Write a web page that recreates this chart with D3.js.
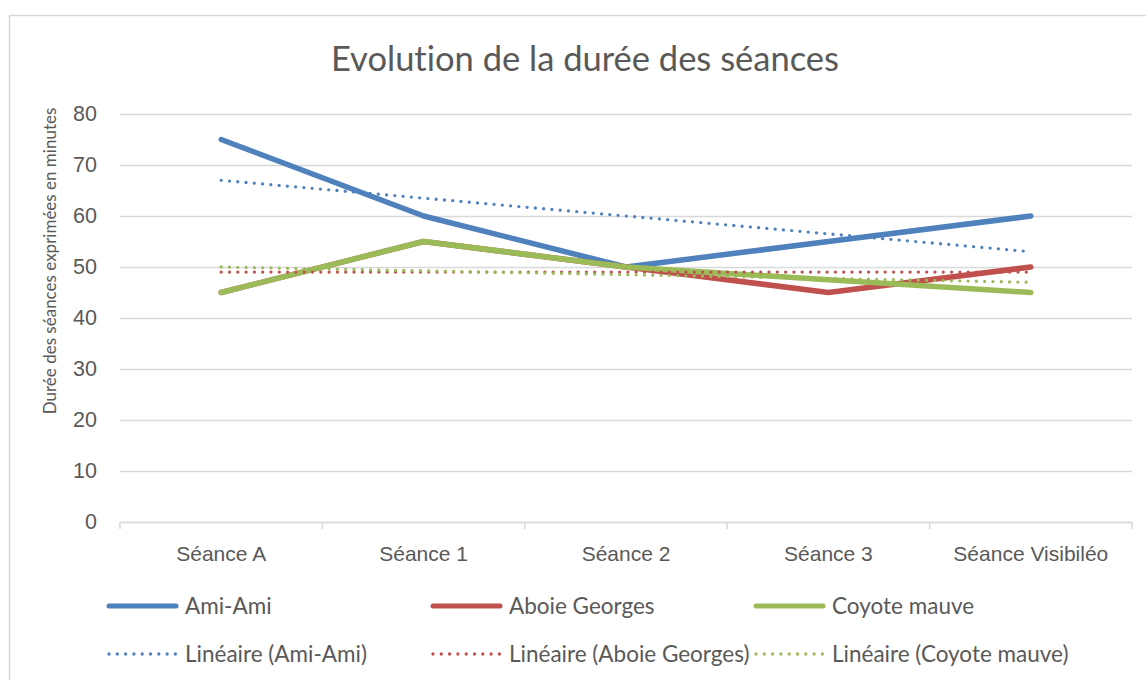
<!DOCTYPE html>
<html>
<head>
<meta charset="utf-8">
<script src="https://cdn.jsdelivr.net/npm/d3@7"></script>
<style>
  body { margin: 0; background: #fff; }
  svg { display: block; font-family: Lato, "Open Sans", sans-serif; font-variant-ligatures: none; font-feature-settings: "liga" 0; }
</style>
</head>
<body>
<svg width="1146" height="680"></svg>
<script>
// data
var categories = ["Séance A", "Séance 1", "Séance 2", "Séance 3", "Séance Visibiléo"];
var amiAmi = [75, 60, 50, 55, 60];
var aboieGeorges = [45, 55, 50, 45, 50];
var coyoteMauve = [45, 55, 50, 47.5, 45];
var seriesNames = ["Ami-Ami", "Aboie Georges", "Coyote mauve"];
var seriesColors = ["#4F81BD", "#C0504D", "#9BBB59"];
var yTicks = [0, 10, 20, 30, 40, 50, 60, 70, 80];
var title = "Evolution de la durée des séances";
var yTitle = "Durée des séances exprimées en minutes";

var series = [amiAmi, aboieGeorges, coyoteMauve];

var margin = {top: 114, left: 120, right: 14, bottom: 158};
var W = 1146, H = 680;
var width = W - margin.left - margin.right;
var height = H - margin.top - margin.bottom;
var textColor = "#595959";
var gridColor = "#D9D9D9";

var svg = d3.select("svg");

// chart frame
svg.append("rect")
  .attr("x", 9.5).attr("y", 15.5)
  .attr("width", 1160).attr("height", 700)
  .style("fill", "#fff").style("stroke", gridColor).style("stroke-width", 1.5);

svg.append("text")
  .attr("x", 585).attr("y", 71)
  .style("text-anchor", "middle")
  .style("font-size", "34.5px")
  .style("fill", textColor)
  .text(title);

var g = svg.append("g").attr("transform", "translate(" + margin.left + "," + margin.top + ")");

var x = d3.scaleBand().domain(categories).range([0, width]);
var y = d3.scaleLinear().domain([0, 80]).range([height, 0]);
function cx(i) { return x(categories[i]) + x.bandwidth() / 2; }

// gridlines + y labels
var yAxis = g.append("g")
  .call(d3.axisLeft(y).tickValues(yTicks).tickSize(-width).tickPadding(22));
yAxis.select(".domain").remove();
yAxis.selectAll(".tick line").style("stroke", gridColor).style("stroke-width", 1.5);
yAxis.selectAll(".tick text").style("font-size", "21.5px").style("fill", textColor)
  .attr("x", -23);

// x axis: labels and category boundary ticks
var xAxis = g.append("g")
  .attr("transform", "translate(0," + height + ")")
  .call(d3.axisBottom(x).tickSize(0).tickPadding(24));
xAxis.select(".domain").style("stroke", gridColor).style("stroke-width", 1.5);
xAxis.selectAll(".tick text").style("font-size", "21px").style("fill", textColor);
g.append("g").selectAll("line")
  .data(d3.range(categories.length + 1))
  .join("line")
  .attr("x1", function(d) { return d * x.step(); })
  .attr("x2", function(d) { return d * x.step(); })
  .attr("y1", height).attr("y2", height + 7)
  .style("stroke", gridColor).style("stroke-width", 1.5);

// y axis title
svg.append("text")
  .attr("transform", "translate(50,261) rotate(-90)")
  .attr("dy", "0.35em")
  .style("text-anchor", "middle")
  .style("font-size", "17px")
  .style("fill", textColor)
  .text(yTitle);

var line = d3.line()
  .x(function(d, i) { return cx(i); })
  .y(function(d) { return y(d); });

series.forEach(function(s, k) {
  g.append("path")
    .datum(s)
    .attr("d", line)
    .style("fill", "none")
    .style("stroke", seriesColors[k])
    .style("stroke-width", 5.5)
    .style("stroke-linecap", "round")
    .style("stroke-linejoin", "round");
});

// linear trendlines (least squares on x = 1..n)
function trend(vals) {
  var n = vals.length;
  var xs = d3.range(1, n + 1);
  var mx = d3.mean(xs), my = d3.mean(vals);
  var b = d3.sum(xs, function(v, i) { return (v - mx) * (vals[i] - my); }) /
          d3.sum(xs, function(v) { return (v - mx) * (v - mx); });
  return [{i: 0, v: my + b * (1 - mx)}, {i: n - 1, v: my + b * (n - mx)}];
}
series.forEach(function(s, k) {
  var t = trend(s);
  g.append("line")
    .attr("x1", cx(t[0].i)).attr("y1", y(t[0].v))
    .attr("x2", cx(t[1].i)).attr("y2", y(t[1].v))
    .style("stroke", seriesColors[k])
    .style("stroke-width", 3.3)
    .style("stroke-linecap", "round")
    .style("stroke-dasharray", "0 8.3");
});

// legend
var legCols = [107, 431, 754];
var legRows = [606, 654];
var legend = svg.append("g");
var items = [];
seriesNames.forEach(function(nm, k) { items.push({name: nm, k: k, row: 0}); });
seriesNames.forEach(function(nm, k) { items.push({name: "Linéaire (" + nm + ")", k: k, row: 1}); });
var li = legend.selectAll("g").data(items).join("g")
  .attr("transform", function(d) { return "translate(" + legCols[d.k] + "," + legRows[d.row] + ")"; });
li.append("line")
  .attr("x1", 2).attr("x2", 69).attr("y1", 0).attr("y2", 0)
  .style("stroke", function(d) { return seriesColors[d.k]; })
  .style("stroke-width", function(d) { return d.row ? 3.3 : 5; })
  .style("stroke-linecap", "round")
  .style("stroke-dasharray", function(d) { return d.row ? "0 8.3" : null; });
li.append("text")
  .attr("x", 78).attr("dy", "0.35em")
  .style("font-size", "22.5px")
  .style("fill", textColor)
  .text(function(d) { return d.name; });
</script>
</body>
</html>
